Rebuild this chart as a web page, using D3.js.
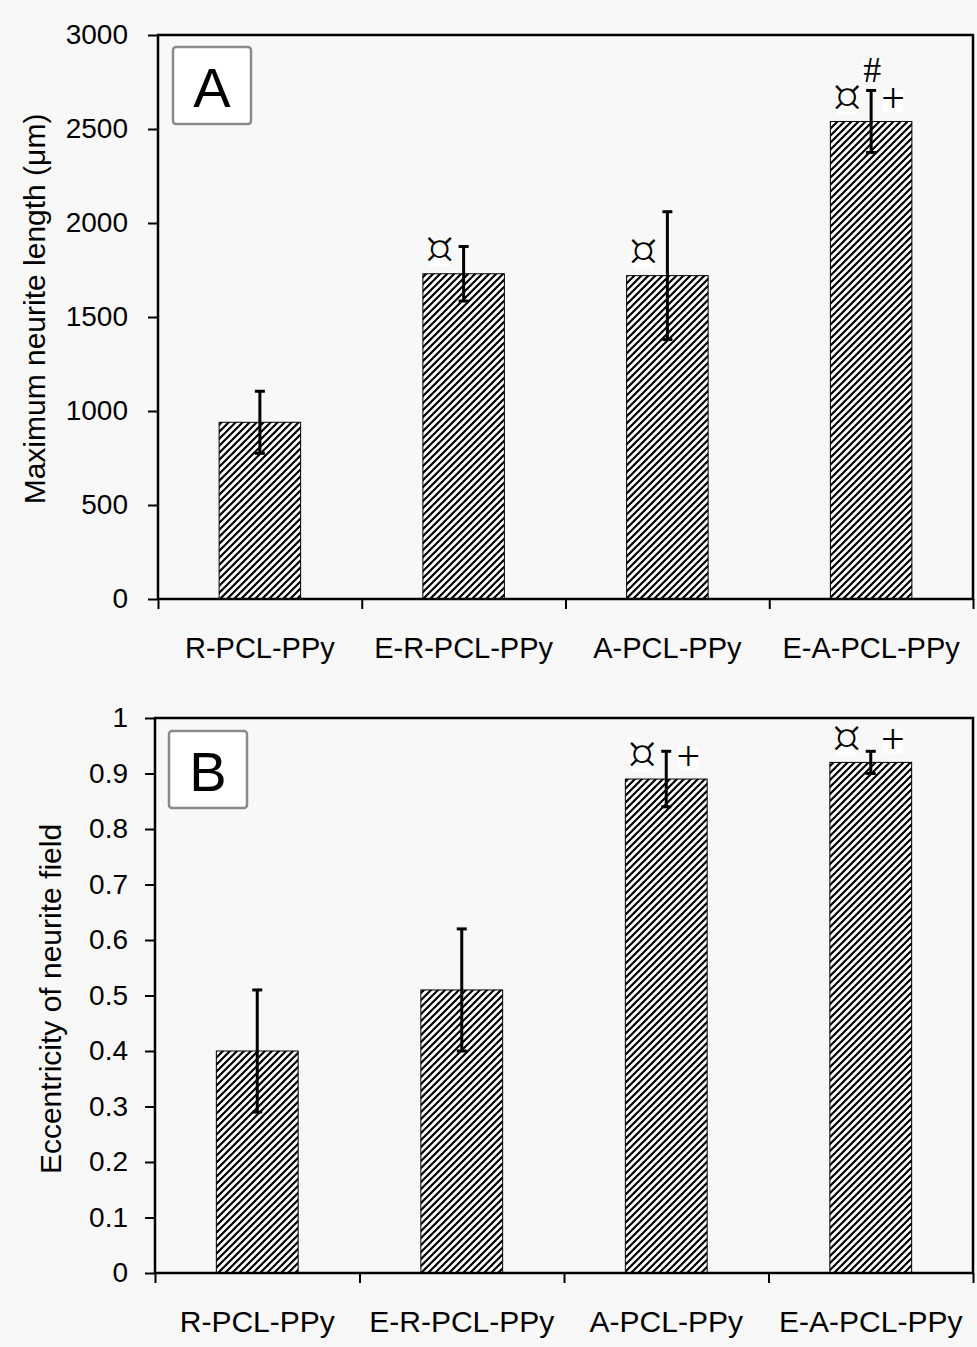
<!DOCTYPE html>
<html>
<head>
<meta charset="utf-8">
<script src="https://cdn.jsdelivr.net/npm/d3@7"></script>
<style>
  body { margin: 0; background: #f8f8f8; }
  text { font-family: "Liberation Sans", Arial, sans-serif; fill: #000; }
  .sym { font-family: "Liberation Serif", "Times New Roman", serif; }
  .cur { font-family: "DejaVu Sans", sans-serif; }
</style>
</head>
<body>
<div id="chart"></div>
<script>
// data
const categories = ["R-PCL-PPy", "E-R-PCL-PPy", "A-PCL-PPy", "E-A-PCL-PPy"];

const lengthMean = [940, 1730, 1720, 2540];
const lengthErr = [165, 145, 340, 165];
const lengthTicks = [0, 500, 1000, 1500, 2000, 2500, 3000];
const lengthMarks = [[], ["¤"], ["¤"], ["¤", "+", "#"]];

const eccMean = [0.40, 0.51, 0.89, 0.92];
const eccErr = [0.11, 0.11, 0.05, 0.02];
const eccTicks = [0, 0.1, 0.2, 0.3, 0.4, 0.5, 0.6, 0.7, 0.8, 0.9, 1];
const eccMarks = [[], [], ["¤", "+"], ["¤", "+"]];

const W = 977, H = 1347;

const svg = d3.select('#chart')
  .append('svg')
  .attr('width', W)
  .attr('height', H);

svg.append('rect')
  .attr('width', W)
  .attr('height', H)
  .attr('fill', '#f8f8f8');

// hatch pattern for the bars
const defs = svg.append('defs');
const pat = defs.append('pattern')
  .attr('id', 'hatch')
  .attr('patternUnits', 'userSpaceOnUse')
  .attr('width', 7)
  .attr('height', 7);
pat.append('rect').attr('width', 7).attr('height', 7).attr('fill', '#fff');
pat.append('path')
  .attr('d', 'M-1,8 L8,-1 M-4,4 L4,-4 M3,11 L11,3')
  .attr('stroke', '#000')
  .attr('stroke-width', 2.2);

// font size per mark symbol
const symSize = { '¤': 46, '+': 42, '#': 36 };

function drawPanel(opt) {
  const g = svg.append('g');

  const x = d3.scaleBand()
    .domain(categories)
    .range([opt.left, opt.right]);

  const xEdge = d3.scaleLinear()
    .domain([0, categories.length])
    .range([opt.left, opt.right]);

  const y = d3.scaleLinear()
    .domain(opt.domain)
    .range([opt.bottom, opt.top]);

  const barW = x.bandwidth() * 0.4;
  const cx = d => x(d) + x.bandwidth() / 2;

  // bars
  g.selectAll('.bar')
    .data(categories)
    .enter()
    .append('rect')
    .attr('class', 'bar')
    .attr('x', d => cx(d) - barW / 2)
    .attr('y', (d, i) => y(opt.mean[i]))
    .attr('width', barW)
    .attr('height', (d, i) => opt.bottom - y(opt.mean[i]))
    .attr('fill', 'url(#hatch)')
    .attr('stroke', '#000')
    .attr('stroke-width', 1);

  // error bars
  const eb = g.selectAll('.err')
    .data(categories)
    .enter()
    .append('g')
    .attr('class', 'err')
    .attr('stroke', '#000')
    .attr('stroke-width', 3);

  eb.append('line')
    .attr('x1', d => cx(d)).attr('x2', d => cx(d))
    .attr('y1', (d, i) => y(opt.mean[i] - opt.err[i]))
    .attr('y2', (d, i) => y(opt.mean[i] + opt.err[i]));
  eb.append('line')
    .attr('x1', d => cx(d) - 5).attr('x2', d => cx(d) + 5)
    .attr('y1', (d, i) => y(opt.mean[i] + opt.err[i]))
    .attr('y2', (d, i) => y(opt.mean[i] + opt.err[i]));
  eb.append('line')
    .attr('x1', d => cx(d) - 5).attr('x2', d => cx(d) + 5)
    .attr('y1', (d, i) => y(opt.mean[i] - opt.err[i]))
    .attr('y2', (d, i) => y(opt.mean[i] - opt.err[i]));

  // significance marks
  categories.forEach((c, i) => {
    const top = y(opt.mean[i]);
    opt.marks[i].forEach(s => {
      let sx = cx(c), sy = top - 20;
      if (s === '¤') { sx -= 24; sy += 2; }
      if (s === '+') sx += 22;
      if (s === '#') { sx += 1; sy -= 31; }
      g.append('rect')
        .attr('x', sx - 10)
        .attr('y', sy - 11)
        .attr('width', 20)
        .attr('height', 22)
        .attr('fill', '#fff');
      const ink = s === '¤' ? 0.18 : s === '+' ? 0.25 : 0.33;
      g.append('text')
        .attr('class', s === '¤' ? 'sym cur' : 'sym')
        .attr('x', sx)
        .attr('y', sy + symSize[s] * ink)
        .attr('text-anchor', 'middle')
        .style('font-size', symSize[s] + 'px')
        .style('font-weight', s === '¤' ? '300' : 'normal')
        .text(s);
    });
  });

  // y axis
  const yAxis = g.append('g')
    .attr('transform', `translate(${opt.left},0)`)
    .call(d3.axisLeft(y).tickValues(opt.ticks).tickSize(10).tickPadding(opt.pad).tickFormat(d3.format('')));
  yAxis.select('.domain').remove();
  yAxis.selectAll('line').attr('stroke-width', 2);
  yAxis.selectAll('text').style('font-size', '28px');

  // x axis ticks at band edges
  const xTicks = g.append('g')
    .attr('transform', `translate(0,${opt.bottom})`)
    .call(d3.axisBottom(xEdge).tickValues(d3.range(categories.length + 1)).tickSize(10).tickFormat(''));
  xTicks.select('.domain').remove();
  xTicks.selectAll('line').attr('stroke-width', 2);

  // category labels
  const xAxis = g.append('g')
    .attr('transform', `translate(0,${opt.bottom})`)
    .call(d3.axisBottom(x).tickSize(0).tickPadding(38));
  xAxis.select('.domain').remove();
  xAxis.selectAll('text').style('font-size', opt.catSize + 'px');

  // frame
  g.append('rect')
    .attr('x', opt.left)
    .attr('y', opt.top)
    .attr('width', opt.right - opt.left)
    .attr('height', opt.bottom - opt.top)
    .attr('fill', 'none')
    .attr('stroke', '#000')
    .attr('stroke-width', 2.5);

  // y title
  g.append('text')
    .attr('transform', `translate(${opt.titleX},${opt.titleY}) rotate(-90)`)
    .attr('text-anchor', 'middle')
    .style('font-size', '30px')
    .text(opt.title);

  // panel letter
  g.append('rect')
    .attr('x', opt.boxX)
    .attr('y', opt.boxY)
    .attr('width', 78)
    .attr('height', 77)
    .attr('rx', 3)
    .attr('fill', '#fff')
    .attr('stroke', '#8a8a8a')
    .attr('stroke-width', 2.5);
  g.append('text')
    .attr('x', opt.boxX + 39)
    .attr('y', opt.boxY + 60)
    .attr('text-anchor', 'middle')
    .style('font-size', '56px')
    .text(opt.letter);
}

drawPanel({
  left: 158, right: 973, top: 35, bottom: 599,
  domain: [0, 3000], ticks: lengthTicks, pad: 20,
  mean: lengthMean, err: lengthErr, marks: lengthMarks,
  catSize: 29,
  title: 'Maximum neurite length (\u03bcm)', titleX: 45, titleY: 309,
  boxX: 173, boxY: 47, letter: 'A'
});

drawPanel({
  left: 155, right: 973, top: 718, bottom: 1273,
  domain: [0, 1], ticks: eccTicks, pad: 17,
  mean: eccMean, err: eccErr, marks: eccMarks,
  catSize: 30,
  title: 'Eccentricity of neurite field', titleX: 61, titleY: 999,
  boxX: 169, boxY: 731, letter: 'B'
});
</script>
</body>
</html>
